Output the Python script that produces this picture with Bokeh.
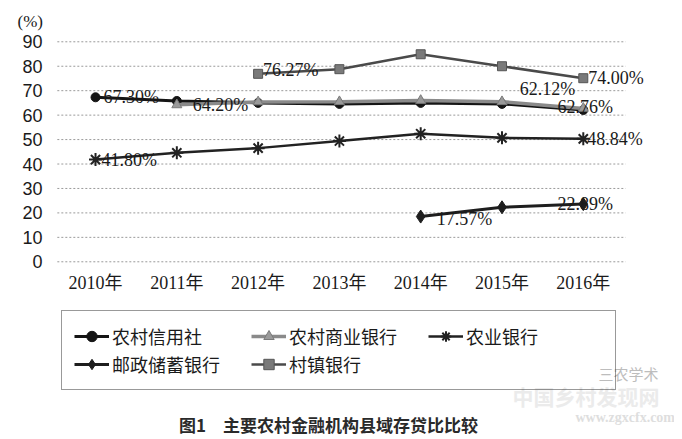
from bokeh.plotting import figure
from bokeh.models import (ColumnDataSource, Range1d, FixedTicker, Legend, LegendItem,
                          Title, Label)
from bokeh.core.properties import value
from bokeh.embed import file_html
from bokeh.resources import INLINE

# ---------------- data ----------------
years = ["2010年", "2011年", "2012年", "2013年", "2014年", "2015年", "2016年"]
y_ticks = [0, 10, 20, 30, 40, 50, 60, 70, 80, 90]

series_names = ["农村信用社", "农村商业银行", "农业银行", "邮政储蓄银行", "村镇银行"]

rcc_years = years
rcc_vals = [67.3, 65.8, 65.0, 64.6, 65.0, 64.6, 62.12]

rcb_years = years[1:]
rcb_vals = [64.2, 65.4, 65.5, 66.0, 65.5, 62.76]

abc_years = years
abc_vals = [41.8, 44.6, 46.5, 49.4, 52.4, 50.7, 50.3]

psbc_years = years[4:]
psbc_vals = [18.5, 22.3, 23.6]

vtb_years = years[2:]
vtb_vals = [76.9, 78.8, 84.9, 80.0, 75.1]

# data labels: (series index, point index within series, text)
label_series = [0, 1, 4, 2, 0, 1, 4, 2, 3, 3]
label_point = [0, 0, 0, 0, 6, 5, 4, 6, 0, 2]
label_text = ["67.30%", "64.20%", "76.27%", "41.80%", "62.12%", "62.76%",
              "74.00%", "48.84%", "17.57%", "22.89%"]

unit_text = "(%)"
caption_text = "图1　主要农村金融机构县域存贷比比较"
watermarks = ["三农学术", "中国乡村发现网", "www.zgxcfx.com"]

# ---------------- styles / layout ----------------
label_dx = [8, 16, 5, 6, -8, 2, 5, 4, 16, 2]
label_dy = [0, 0, -4, 0, -21, -1, 0, 0, 2, 0]
label_align = ["left", "left", "left", "left", "right", "center",
               "left", "left", "left", "center"]

SERIF = "Liberation Serif, Noto Sans CJK SC"
SANS = "Liberation Sans"
CJK = "Noto Sans CJK SC"
TXT = "#1a1a1a"

X_START, X_END = -0.64, 7.122        # visible x extent (index units)
Y_START, Y_END = -72.7, 90.53        # visible y extent (value units)
GRID_PAD_L, GRID_PAD_R = 0.47, 0.52  # grid line overhang beyond first/last year

all_years = [rcc_years, rcb_years, abc_years, psbc_years, vtb_years]
all_vals = [rcc_vals, rcb_vals, abc_vals, psbc_vals, vtb_vals]
all_x = [[years.index(y) for y in ys] for ys in all_years]

p = figure(x_range=Range1d(X_START, X_END), y_range=Range1d(Y_START, Y_END),
           width=674, height=439, x_axis_location=None,
           output_backend="svg", toolbar_location=None,
           min_border_left=43, min_border_right=0, min_border_top=39,
           min_border_bottom=0)
p.outline_line_color = None
p.background_fill_color = "white"
p.border_fill_color = "white"
p.xgrid.grid_line_color = None
p.ygrid.grid_line_color = None

# dotted horizontal grid lines spanning the year bands
p.segment(x0=[-GRID_PAD_L] * len(y_ticks), x1=[len(years) - 1 + GRID_PAD_R] * len(y_ticks),
          y0=y_ticks, y1=y_ticks, line_color="#9a9a9a", line_dash="2 2", line_width=1)

p.yaxis.ticker = FixedTicker(ticks=y_ticks)
p.yaxis.axis_line_color = None
p.yaxis.major_tick_line_color = None
p.yaxis.minor_tick_line_color = None
p.yaxis.major_tick_in = 0
p.yaxis.major_tick_out = 0
p.yaxis.major_label_text_color = TXT
p.yaxis.major_label_text_font = SANS
p.yaxis.major_label_text_font_size = "18px"
p.yaxis.major_label_standoff = 1

# category (year) labels under the zero line
p.text(x=list(range(len(years))), y=[0] * len(years), text=years, y_offset=21,
       text_align="center", text_baseline="middle", text_font=value(SERIF),
       text_font_size="18px", text_color=TXT)

styles = [
    dict(line_color="#151515", line_width=3, marker="circle", size=9,
         fill_color="#151515", mline="#151515"),
    dict(line_color="#8a8a8a", line_width=3.5, marker="triangle", size=10,
         fill_color="#9a9a9a", mline="#7a7a7a"),
    dict(line_color="#222222", line_width=2.5, marker="asterisk", size=13,
         fill_color="#222222", mline="#222222"),
    dict(line_color="#1e1e1e", line_width=3, marker="diamond", size=13,
         fill_color="#1e1e1e", mline="#1e1e1e"),
    dict(line_color="#4a4a4a", line_width=2.5, marker="square", size=9,
         fill_color="#7a7a7a", mline="#555555"),
]

items = []
for i, name in enumerate(series_names):
    st = styles[i]
    src = ColumnDataSource(dict(x=all_x[i], y=all_vals[i]))
    r_line = p.line("x", "y", source=src, line_color=st["line_color"],
                    line_width=st["line_width"])
    r_mark = p.scatter("x", "y", source=src, marker=st["marker"], size=st["size"],
                       fill_color=st["fill_color"], line_color=st["mline"],
                       line_width=2 if st["marker"] == "asterisk" else 1)
    items.append(LegendItem(label=name, renderers=[r_line, r_mark]))

# data labels
lx = [all_x[s][k] for s, k in zip(label_series, label_point)]
ly = [all_vals[s][k] for s, k in zip(label_series, label_point)]
lsrc = ColumnDataSource(dict(x=lx, y=ly, text=label_text, dx=label_dx, dy=label_dy,
                             align=label_align))
p.text("x", "y", text="text", source=lsrc, x_offset="dx", y_offset="dy",
       text_align="align", text_baseline="middle", text_font=value("Liberation Serif"),
       text_font_size="18px", text_color=TXT)

# unit label on top
p.title = Title(text=unit_text, align="left", offset=-26, standoff=19,
                text_font="Liberation Serif", text_font_size="17px",
                text_font_style="normal", text_color=TXT)

# legend box under the chart
legend = Legend(items=items, location=(18, 49), orientation="horizontal", ncols=3,
                glyph_width=35, glyph_height=26, label_height=26, label_width=137,
                label_standoff=3, spacing=2, padding=12,
                label_text_font=CJK, label_text_font_size="18px",
                label_text_color=TXT,
                border_line_color="#333333", border_line_width=1.5,
                background_fill_alpha=0)
p.add_layout(legend, "center")

# faint watermarks (bottom right)
p.add_layout(Label(x=555, y=66, x_units="screen", y_units="screen", text=watermarks[0],
                   text_font=CJK, text_font_size="15px", text_color="#bdbdbd",
                   text_baseline="middle"))
p.add_layout(Label(x=469, y=44, x_units="screen", y_units="screen", text=watermarks[1],
                   text_font=CJK, text_font_size="21px", text_color="#ebebeb",
                   text_font_style="bold", text_baseline="middle"))
p.add_layout(Label(x=532, y=22, x_units="screen", y_units="screen", text=watermarks[2],
                   text_font="Liberation Serif", text_font_size="14px",
                   text_font_style="bold", text_color="#dedede", text_baseline="middle"))

# caption
p.add_layout(Label(x=285, y=15, x_units="screen", y_units="screen", text=caption_text,
                   text_font=CJK, text_font_size="17px", text_font_style="bold",
                   text_align="center", text_baseline="middle", text_color="#2a2a2a"))

open("out.html", "w").write(file_html(p, INLINE))
